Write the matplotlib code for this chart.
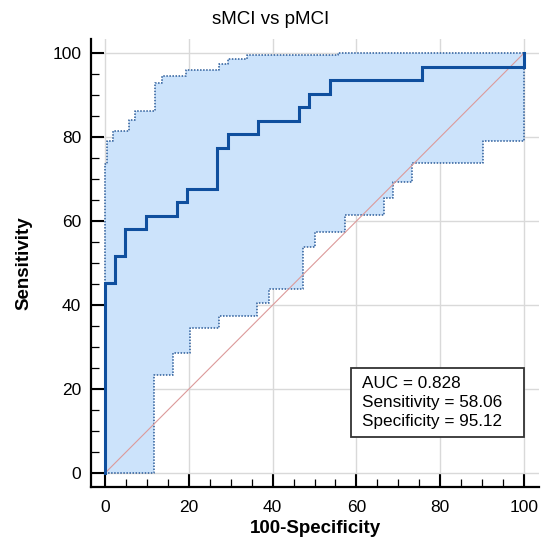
import numpy as np
import matplotlib.pyplot as plt
from matplotlib.patches import Rectangle

plt.rcParams['font.family'] = ['Liberation Sans', 'DejaVu Sans']

# ROC curve (100-Specificity, Sensitivity), step vertices
roc_x = [0, 0, 2.44, 4.88, 9.76, 17.07, 19.51, 26.83, 29.27, 36.59, 46.34, 48.78, 53.66, 75.61, 100]
roc_y = [0, 45.16, 51.61, 58.06, 61.29, 64.52, 67.74, 77.42, 80.65, 83.87, 87.10, 90.32, 93.55, 96.77, 100]

# upper confidence bound
up_x = [0, 0, 0.4, 1.8, 5.6, 7.2, 11.9, 13.7, 19.3, 27.3, 29.4, 33.8, 55.7, 100]
up_y = [0, 73.7, 79.1, 81.5, 84.0, 86.3, 92.8, 94.5, 96.0, 97.4, 98.6, 99.6, 100, 100]

# lower confidence bound
lo_x = [0, 11.8, 16.3, 20.3, 27.2, 36.3, 39.1, 47.3, 50.0, 57.3, 66.7, 68.8, 73.2, 90.1, 100]
lo_y = [0, 23.3, 28.7, 34.6, 37.5, 40.5, 43.8, 53.9, 57.5, 61.4, 65.4, 69.4, 73.9, 79.0, 100]

diag = [0, 100]

auc = 0.828
sensitivity = 58.06
specificity = 95.12


def step_path(x, y):
    x = np.asarray(x, float)
    y = np.asarray(y, float)
    return np.repeat(x, 2)[1:], np.repeat(y, 2)[:-1]


fig = plt.figure(figsize=(5.42, 5.40), dpi=100)
ax = fig.add_axes([0.168, 0.098, 0.8266, 0.8296])

line_blue = '#0f4f9e'
dot_blue = '#2b5c9a'

ux, uy = step_path(up_x, up_y)
lx, ly = step_path(lo_x, lo_y)
ax.fill(np.concatenate([ux, lx[::-1]]), np.concatenate([uy, ly[::-1]]),
        color='#cce3fb', lw=0, zorder=1)
ax.plot(ux, uy, color=dot_blue, lw=1.1, ls=(0, (1, 1)), zorder=2)
ax.plot(lx, ly, color=dot_blue, lw=1.1, ls=(0, (1, 1)), zorder=2)

ax.plot(diag, diag, color='#dc9a9a', lw=0.8, zorder=3)

rx, ry = step_path(roc_x, roc_y)
ax.plot(rx, ry, color=line_blue, lw=2.2, zorder=4, solid_joinstyle='miter')

ax.set_xlim(-3.34, 103.6)
ax.set_ylim(-3.33, 103.33)
ax.set_xticks(np.arange(0, 101, 20))
ax.set_yticks(np.arange(0, 101, 20))
ax.set_xticks(np.arange(0, 101, 5), minor=True)
ax.set_yticks(np.arange(0, 101, 5), minor=True)
ax.grid(True, which='major', color='#d9d9d9', lw=1.0, zorder=0)
ax.set_axisbelow(True)

for s in ['top', 'right']:
    ax.spines[s].set_visible(False)
for s in ['left', 'bottom']:
    ax.spines[s].set_linewidth(1.6)
    ax.spines[s].set_color('black')

ax.tick_params(which='major', direction='in', length=9.5, width=1.5, labelsize=12.5)
ax.tick_params(axis='x', which='major', pad=9)
ax.tick_params(axis='y', which='major', pad=7)
ax.tick_params(which='minor', direction='in', length=5.5, width=0.9)

ax.set_xlabel('100-Specificity', fontsize=13.5, fontweight='bold', labelpad=4)
ax.set_ylabel('Sensitivity', fontsize=13.5, fontweight='bold', labelpad=14)
fig.text(0.5, 1 - 20 / 540, 'sMCI vs pMCI', ha='center', va='center', fontsize=13.5)

ax.add_patch(Rectangle((58.7, 8.6), 41.3, 16.4, facecolor='white', edgecolor='#333333',
                       lw=1.3, zorder=5))
ax.text(61.3, 16.8,
        f'AUC = {auc:.3f}\nSensitivity = {sensitivity:.2f}\nSpecificity = {specificity:.2f}',
        ha='left', va='center', fontsize=12.3, linespacing=1.3, zorder=6)

fig.savefig('out.png', dpi=100)
